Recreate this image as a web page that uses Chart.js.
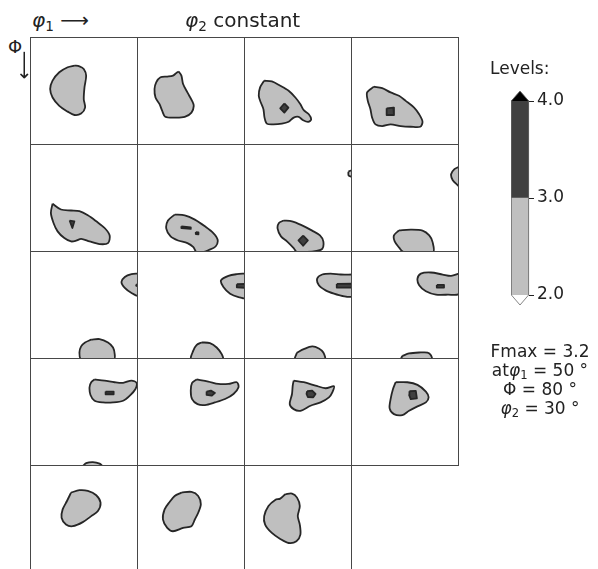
<!DOCTYPE html>
<html>
<head>
<meta charset="utf-8">
<script src="https://cdn.jsdelivr.net/npm/chart.js@4.4.1/dist/chart.umd.min.js"></script>
<style>
  html, body { margin:0; padding:0; width:598px; height:569px; overflow:hidden; background:#fff; }
  canvas { position:absolute; }
  .t { position:absolute; font-family:'DejaVu Sans', sans-serif; white-space:nowrap; line-height:1; color:#222; }
  .t i { font-style:italic; }
  .t sub { font-size:68%; vertical-align:-0.28em; line-height:0; }
</style>
</head>
<body>
<script>
// ---------- DATA ----------
// phi2 value of each ODF section (one panel per value)
const phi2Sections = [0,5,10,15,20,25,30,35,40,45,50,55,60,65,70,75,80,85,90];
// contour levels of the colour bar
const levelValues = [2.0, 3.0, 4.0];
const levelTickLabels = ['2.0', '3.0', '4.0'];
// Fmax annotation
const fMax = 3.2;
const fMaxAt = { phi1: 50, Phi: 80, phi2: 30 };

// Region >= 2.0 : polygons per section, flat [phi1, Phi, phi1, Phi, ...] in degrees
const level2Contours = [
  [[37.0,23.8, 41.2,24.4, 44.8,26.6, 46.8,32.2, 45.4,42.0, 44.8,51.8, 45.9,58.8, 42.6,63.8, 37.0,65.0, 31.4,62.2, 24.4,57.4, 18.8,50.4, 16.8,43.4, 18.8,36.4, 24.4,29.4, 31.4,25.2]],
  [[34.7,28.8, 37.0,32.2, 38.4,39.2, 42.0,46.2, 45.9,53.2, 47.3,57.4, 45.4,63.0, 39.8,66.6, 31.4,67.2, 23.5,66.4, 21.0,61.6, 18.8,56.0, 15.4,50.4, 14.6,43.4, 16.0,37.8, 19.6,33.6, 25.2,33.0, 30.0,32.2, 32.8,30.0]],
  [[16.8,36.4, 23.2,37.0, 30.2,40.6, 37.2,44.8, 42.8,50.4, 47.0,56.0, 49.8,61.0, 54.0,64.4, 56.0,68.6, 53.5,70.8, 49.3,69.4, 45.6,66.6, 41.4,67.2, 37.2,70.6, 31.6,72.2, 24.6,72.8, 19.0,72.2, 17.1,67.2, 16.2,60.2, 14.0,54.6, 12.3,49.0, 13.4,42.0]],
  [[19.0,41.4, 26.0,42.6, 33.0,46.2, 40.0,49.0, 45.6,53.2, 52.6,58.8, 56.8,64.4, 59.6,70.6, 57.7,74.8, 49.8,74.8, 41.4,74.2, 33.0,72.8, 26.0,74.2, 20.4,72.8, 17.6,67.2, 16.2,60.2, 14.0,53.2, 13.4,46.2]],
  [[18.8,49.8, 25.8,54.6, 34.2,55.4, 41.2,56.0, 48.2,59.4, 55.2,64.4, 62.2,70.0, 66.4,76.2, 65.0,82.6, 58.0,83.4, 49.6,81.2, 42.6,79.0, 38.4,80.6, 34.2,81.2, 28.6,78.4, 23.0,72.8, 19.6,65.8, 17.4,57.4]],
  [[31.4,58.8, 39.8,59.4, 48.2,63.0, 56.6,68.6, 63.6,74.2, 67.2,79.8, 65.5,85.4, 59.4,88.5, 55.5,90, 49.5,90, 47.0,86.0, 42.0,82.6, 34.2,80.4, 28.0,77.0, 24.4,70.6, 25.8,63.8]],
  [[33.0,63.8, 40.0,64.4, 48.4,67.8, 56.8,72.2, 63.3,76.2, 66.1,81.2, 65.2,87.4, 60.5,89.0, 52.6,90, 44.2,90, 41.4,86.8, 35.8,81.2, 30.8,77.0, 28.0,70.6, 29.1,65.8],
   [87.0,23.0, 90,22.0, 90,27.0, 87.2,26.2]],
  [[40.0,72.0, 49.8,71.4, 59.6,72.2, 65.2,76.2, 68.0,81.8, 68.3,90, 43.7,90, 40.0,86.2, 36.4,81.2, 35.8,76.2],
   [90,19.0, 86.2,21.0, 83.4,25.2, 84.8,30.2, 89.0,34.4, 90,35.0]],
  [[90,18.8, 84.6,19.3, 79.0,21.6, 76.2,25.8, 79.0,30.8, 84.6,35.0, 90,37.0],
   [51.0,73.9, 58.0,73.4, 65.0,76.2, 69.2,80.4, 70.6,86.0, 70.0,90, 42.6,90, 41.2,84.6, 42.6,79.5, 45.9,76.2]],
  [[90,18.8, 83.2,19.3, 76.2,20.7, 70.0,24.4, 72.0,30.0, 77.6,35.6, 84.6,38.4, 90,38.9],
   [53.8,76.2, 60.8,76.7, 66.4,80.4, 70.6,86.0, 71.4,90, 45.4,90, 46.8,83.2, 49.6,78.4]],
  [[90,19.6, 80.6,19.6, 72.2,18.8, 65.2,19.6, 61.0,23.0, 62.4,28.6, 68.0,32.8, 75.0,35.6, 82.0,37.5, 90,37.5],
   [44.2,84.6, 49.8,81.8, 56.8,79.5, 62.4,81.2, 66.1,84.6, 67.2,90, 42.8,90]],
  [[90,18.8, 83.4,20.7, 76.4,19.6, 66.6,17.9, 58.2,18.8, 55.4,23.0, 56.8,28.6, 62.4,33.6, 70.8,36.4, 80.6,36.4, 90,35.6],
   [42.8,87.4, 48.4,85.4, 56.8,84.6, 63.8,84.6, 66.6,86.8, 67.2,90, 42.0,90]],
  [[53.8,17.9, 62.2,18.8, 70.6,20.2, 77.6,20.7, 84.6,18.8, 88.8,20.7, 87.9,25.8, 83.2,31.4, 77.6,35.6, 69.2,37.0, 60.8,37.0, 53.8,35.6, 50.4,30.8, 49.6,24.4, 51.0,20.2],
   [44.0,90, 46.8,87.6, 52.4,86.7, 58.0,88.0, 59.9,90]],
  [[49.6,17.9, 59.4,19.6, 67.8,21.6, 76.2,21.6, 83.2,20.2, 84.6,24.4, 80.4,30.0, 73.4,34.2, 65.0,37.0, 56.6,39.2, 50.4,38.4, 45.9,34.2, 44.8,27.2, 45.9,20.7]],
  [[41.4,18.8, 49.8,20.2, 59.6,23.0, 68.0,25.2, 75.0,23.5, 73.6,28.6, 70.8,32.8, 63.8,37.0, 55.4,39.8, 47.0,44.0, 41.4,42.6, 38.1,38.4, 40.0,30.0, 40.6,23.0]],
  [[37.2,20.2, 47.0,20.2, 55.4,22.4, 62.4,28.0, 64.7,32.8, 62.4,37.0, 55.4,40.3, 48.4,44.0, 42.8,47.6, 35.8,46.8, 32.2,42.0, 33.0,34.2, 35.0,25.8]],
  [[34.2,23.0, 41.2,21.0, 48.2,21.6, 55.2,25.2, 58.8,31.4, 56.6,38.4, 51.0,42.6, 44.0,47.6, 35.6,51.0, 30.0,49.6, 26.3,44.0, 27.2,37.0, 30.8,30.0]],
  [[37.0,23.0, 45.4,22.4, 51.0,25.8, 53.2,32.8, 51.0,39.8, 48.2,45.4, 45.4,51.0, 38.4,52.4, 30.0,55.2, 25.2,52.4, 21.6,45.4, 23.0,37.0, 27.2,30.8, 31.4,25.8]],
  [[34.4,24.4, 40.0,23.8, 44.2,27.2, 46.5,34.2, 44.8,42.6, 46.5,49.6, 47.0,58.0, 43.7,63.6, 37.2,65.0, 30.2,61.6, 23.2,56.6, 17.6,49.6, 16.8,42.6, 20.4,34.2, 26.0,29.1, 30.2,28.0]]
];

// Region >= 3.0 : polygons per section
const level3Contours = [
  [], [],
  [[33.6,55.4, 37.0,58.8, 33.6,63.0, 30.2,59.4]],
  [[29.7,59.4, 35.3,58.8, 35.8,65.0, 29.7,65.0]],
  [[33.0,63.8, 37.0,64.4, 35.3,70.0]],
  [[37.0,68.6, 44.8,69.4, 44.8,70.8, 37.0,70.0], [49.0,73.4, 51.2,73.6, 51.2,75.3, 49.0,75.0]],
  [[49.3,76.4, 53.2,80.4, 49.3,84.8, 45.4,80.4]],
  [],
  [[88.5,28.0, 90,27.8, 90,29.2, 88.5,29.0]],
  [[83.2,27.7, 90,27.4, 90,30.8, 83.2,30.2]],
  [[77.3,27.4, 90,27.2, 90,30.6, 77.3,30.5]],
  [[71.5,28.3, 77.5,28.3, 77.5,30.5, 71.5,30.5]],
  [[63.0,28.0, 69.7,28.0, 69.7,30.2, 63.0,30.2]],
  [[58.0,28.0, 61.6,27.2, 65.0,29.1, 62.2,31.4, 58.0,30.8]],
  [[52.6,27.7, 56.8,27.2, 59.6,30.0, 57.7,32.8, 53.2,32.5, 52.1,30.0]],
  [[48.7,27.7, 54.0,27.4, 54.9,33.6, 49.8,34.2, 48.4,30.8]],
  [], [], []
];

// ---------- STYLE ----------
const FONT = "'DejaVu Sans', sans-serif";
const LIGHT = '#bfbfbf', DARK = '#404040', EDGE = '#262626', FRAME = '#474747';
const PANEL = 107, PANEL_X0 = 30, PANEL_Y0 = 37;

function toPoints(flat) {
  const pts = [];
  for (let k = 0; k < flat.length; k += 2) pts.push({ x: flat[k], y: flat[k + 1] });
  pts.push({ x: flat[0], y: flat[1] });
  return pts;
}
function polyDataset(flat, fillColor, order, tension) {
  return {
    data: toPoints(flat), showLine: true, fill: 'shape',
    backgroundColor: fillColor, borderColor: EDGE, borderWidth: 1.8,
    borderJoinStyle: 'round', pointRadius: 0, tension: tension, order: order
  };
}
const framePlugin = {
  id: 'frame',
  afterDraw(chart) {
    const { ctx, chartArea: a } = chart;
    ctx.save();
    ctx.strokeStyle = FRAME; ctx.lineWidth = 1;
    ctx.strokeRect(a.left + 0.5, a.top + 0.5, a.right - a.left - 1, a.bottom - a.top - 1);
    ctx.restore();
  }
};

phi2Sections.forEach((phi2, i) => {
  const col = i % 4, row = Math.floor(i / 4);
  const cv = document.createElement('canvas');
  cv.width = PANEL + 1; cv.height = PANEL + 1;
  cv.style.left = (PANEL_X0 + col * PANEL) + 'px';
  cv.style.top = (PANEL_Y0 + row * PANEL) + 'px';
  document.body.appendChild(cv);
  const datasets = [
    ...level3Contours[i].map(p => polyDataset(p, DARK, 0, 0)),
    ...level2Contours[i].map(p => polyDataset(p, LIGHT, 1, 0.3))
  ];
  new Chart(cv, {
    type: 'scatter',
    data: { datasets },
    options: {
      responsive: false, animation: false, events: [],
      layout: { padding: 0 },
      plugins: { legend: { display: false }, tooltip: { enabled: false }, title: { display: false } },
      scales: {
        x: { type: 'linear', min: 0, max: 90, display: false },
        y: { type: 'linear', min: 0, max: 90, reverse: true, display: false }
      }
    },
    plugins: [framePlugin]
  });
});

// ---------- COLOUR BAR ----------
const cbCanvas = document.createElement('canvas');
cbCanvas.width = 87; cbCanvas.height = 240;
cbCanvas.style.left = '511px'; cbCanvas.style.top = '81px';
document.body.appendChild(cbCanvas);
const extendPlugin = {
  id: 'extend',
  afterDraw(chart) {
    const { ctx, chartArea: a } = chart;
    const ys = chart.scales.y;
    const top = ys.getPixelForValue(levelValues[levelValues.length - 1]);
    const bot = ys.getPixelForValue(levelValues[0]);
    const mid = (a.left + a.right) / 2, h = 10;
    ctx.save();
    ctx.fillStyle = '#000';
    ctx.beginPath(); ctx.moveTo(a.left, top); ctx.lineTo(mid, top - h); ctx.lineTo(a.right, top); ctx.closePath(); ctx.fill();
    ctx.fillStyle = '#fff';
    ctx.beginPath(); ctx.moveTo(a.left, bot); ctx.lineTo(mid, bot + h); ctx.lineTo(a.right, bot); ctx.closePath(); ctx.fill();
    ctx.strokeStyle = '#666'; ctx.lineWidth = 0.8;
    ctx.beginPath();
    ctx.moveTo(a.left + 0.4, top); ctx.lineTo(mid, top - h); ctx.lineTo(a.right - 0.4, top);
    ctx.lineTo(a.right - 0.4, bot); ctx.lineTo(mid, bot + h); ctx.lineTo(a.left + 0.4, bot); ctx.closePath();
    ctx.stroke();
    ctx.restore();
  }
};
new Chart(cbCanvas, {
  type: 'bar',
  data: {
    labels: [''],
    datasets: [
      { data: [[levelValues[0], levelValues[1]]], backgroundColor: LIGHT, borderWidth: 0 },
      { data: [[levelValues[1], levelValues[2]]], backgroundColor: DARK, borderWidth: 0 }
    ]
  },
  options: {
    responsive: false, animation: false, events: [],
    layout: { padding: { top: 20, bottom: 26, left: 0, right: 0 } },
    plugins: { legend: { display: false }, tooltip: { enabled: false } },
    datasets: { bar: { barPercentage: 1, categoryPercentage: 1, grouped: false } },
    scales: {
      x: { display: false },
      y: {
        position: 'right', min: levelValues[0], max: levelValues[2],
        afterFit(s) { s.width = 69; },
        afterBuildTicks(s) { s.ticks = levelValues.map(v => ({ value: v })); },
        ticks: { callback: (v) => levelTickLabels[levelValues.indexOf(v)], color: '#222', padding: 3,
                 font: { family: FONT, size: 17 } },
        grid: { drawOnChartArea: false, drawTicks: true, tickLength: 5, color: '#222' },
        border: { display: false }
      }
    }
  },
  plugins: [extendPlugin]
});

// ---------- TEXT ----------
function addText(html, css) {
  const d = document.createElement('div');
  d.className = 't'; d.innerHTML = html;
  Object.assign(d.style, css);
  document.body.appendChild(d);
  return d;
}
addText('<i>φ</i><sub>1</sub> ⟶', { left: '32px', top: '10px', fontSize: '20px' });
addText('<i>φ</i><sub>2</sub> constant', { left: '185px', top: '10px', fontSize: '20px' });
addText('Φ', { left: '8px', top: '38px', fontSize: '18px' });
addText('⟶', { left: '10px', top: '55px', width: '30px', height: '20px', textAlign: 'center', fontSize: '20px', transform: 'rotate(90deg)' });
addText('Levels:', { left: '490px', top: '60px', fontSize: '17px' });
addText(
  'Fmax = ' + fMax.toFixed(1) + '<br>at<i>φ</i><sub>1</sub> = ' + fMaxAt.phi1 + ' °<br>Φ = ' + fMaxAt.Phi + ' °<br><i>φ</i><sub>2</sub> = ' + fMaxAt.phi2 + ' °',
  { left: '480px', top: '342px', width: '120px', textAlign: 'center', fontSize: '17px', lineHeight: '19px' }
);
</script>
</body>
</html>
